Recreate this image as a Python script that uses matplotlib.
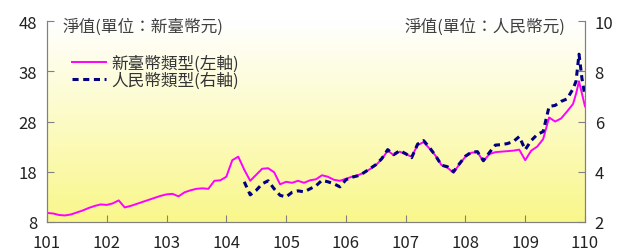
import numpy as np
import matplotlib
matplotlib.use("Agg")
import matplotlib.pyplot as plt
from matplotlib.lines import Line2D
from matplotlib.colors import LinearSegmentedColormap

plt.rcParams['font.family'] = ['Noto Sans CJK TC', 'DejaVu Sans']

# 新臺幣類型 (left axis), year points in ROC calendar
twd_years = np.round(np.arange(101.0, 109.81, 0.1), 2).tolist() + [109.85, 109.9, 109.95, 110.0]
twd_nav = [
    9.8, 9.7, 9.4, 9.3, 9.5, 9.9, 10.3, 10.8, 11.2, 11.5,
    11.4, 11.7, 12.3, 10.9, 11.2, 11.6, 12.0, 12.4, 12.8, 13.2,
    13.5, 13.6, 13.1, 13.9, 14.3, 14.6, 14.7, 14.6, 16.2, 16.3,
    17.0, 20.3, 21.0, 18.4, 16.2, 17.4, 18.6, 18.7, 17.9, 15.5,
    16.0, 15.8, 16.2, 15.8, 16.3, 16.5, 17.3, 17.0, 16.4, 16.2,
    16.6, 17.0, 17.3, 17.8, 18.5, 19.3, 20.5, 22.2, 21.3, 22.0,
    21.5, 21.0, 23.3, 23.9, 22.6, 21.2, 19.3, 18.8, 17.8, 19.5,
    21.0, 21.8, 21.9, 20.1, 21.5, 21.9, 22.0, 22.1, 22.2, 22.4,
    20.3, 22.2, 23.0, 24.5, 28.8, 28.0, 28.6, 30.0, 31.5,
    33.5, 36.0, 33.5, 31.0,
]

# 人民幣類型 (right axis)
cny_years = np.round(np.arange(104.3, 109.81, 0.1), 2).tolist() + [109.85, 109.9, 109.95, 110.0]
cny_nav = [
    3.60, 3.08, 3.26, 3.52, 3.64, 3.32, 3.06,
    3.00, 3.18, 3.24, 3.20, 3.32, 3.44, 3.66, 3.60, 3.52, 3.40,
    3.68, 3.78, 3.84, 3.96, 4.12, 4.28, 4.52, 4.88, 4.68, 4.84,
    4.72, 4.56, 5.10, 5.24, 4.96, 4.64, 4.26, 4.20, 4.00, 4.32,
    4.62, 4.78, 4.80, 4.44, 4.76, 5.06, 5.08, 5.12, 5.20, 5.40,
    4.88, 5.24, 5.48, 5.60, 6.60, 6.64, 6.80, 6.90, 7.30,
    7.60, 8.68, 7.70, 7.00,
]

left_ticks = [8, 18, 28, 38, 48]
right_ticks = [2, 4, 6, 8, 10]
x_ticks = list(range(101, 111))

fig = plt.figure(figsize=(6.23, 2.53), dpi=100)
ax = fig.add_axes([0.0754, 0.1186, 0.8636, 0.7944])
ax2 = ax.twinx()

# white-to-yellow gradient background
cmap = LinearSegmentedColormap.from_list('bg', ['#FFFFFF', '#F9F78A'])
grad = np.linspace(0, 1, 256).reshape(-1, 1)
ax.imshow(grad, aspect='auto', cmap=cmap, origin='upper',
          extent=[101, 110, 8, 48], zorder=0)

ax.plot(twd_years, twd_nav, color='#FF00FF', lw=1.4, zorder=2)
ax2.plot(cny_years, cny_nav, color='#000080', lw=2.2, ls=(0, (2.0, 1.5)), zorder=3)

ax.set_xlim(101, 110)
ax.set_ylim(8, 48)
ax2.set_ylim(2, 10)
ax.set_xticks(x_ticks)
ax.set_yticks(left_ticks)
ax2.set_yticks(right_ticks)

for a in (ax, ax2):
    for s in a.spines.values():
        s.set_color('#808080')
    a.spines['top'].set_visible(False)
    a.tick_params(direction='in', length=5, color='#808080', labelsize=12, labelcolor='#222222')
ax.tick_params(axis='x', pad=9)
ax.tick_params(axis='y', pad=7)
ax2.tick_params(axis='y', pad=7)

ax.text(0.028, 1.015, '淨值(單位：新臺幣元)', transform=ax.transAxes,
        ha='left', va='top', fontsize=12, color='#404040')
ax2.text(0.963, 1.015, '淨值(單位：人民幣元)', transform=ax.transAxes,
         ha='right', va='top', fontsize=12, color='#404040')

handles = [
    Line2D([], [], color='#FF00FF', lw=1.4),
    Line2D([], [], color='#000080', lw=2.2, ls=(0, (2.0, 1.5))),
]
ax2.legend(handles, ['新臺幣類型(左軸)', '人民幣類型(右軸)'], loc='upper left',
           bbox_to_anchor=(0.035, 0.865), frameon=False, fontsize=12,
           handlelength=2.0, handletextpad=0.3, labelspacing=0.0,
           borderaxespad=0, labelcolor='#333333')

fig.savefig('out.png', dpi=100)
